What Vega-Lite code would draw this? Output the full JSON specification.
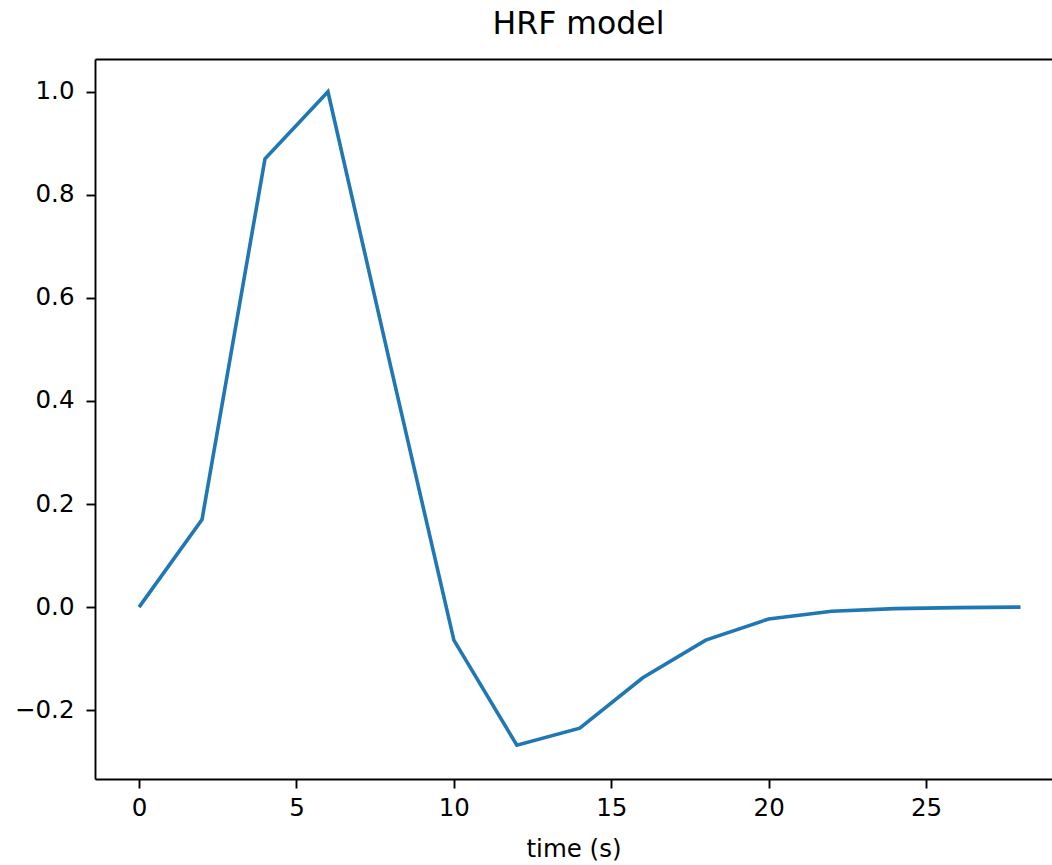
{
  "$schema": "https://vega.github.io/schema/vega-lite/v6.json",
  "autosize": {"type": "none"},
  "padding": {"left": 95, "top": 59, "right": 0, "bottom": 86},
  "width": 957,
  "height": 720,
  "background": "white",
  "config": {
    "view": {"stroke": null},
    "font": "DejaVu Sans",
    "axis": {
      "grid": false,
      "domainColor": "black",
      "domainWidth": 1.9,
      "tickColor": "black",
      "tickWidth": 1.9,
      "tickSize": 9,
      "labelColor": "black",
      "labelFontSize": 24.5,
      "labelFont": "DejaVu Sans",
      "titleFont": "DejaVu Sans",
      "titleFontSize": 24.5,
      "titleFontWeight": "normal",
      "titleColor": "black"
    },
    "title": {"font": "DejaVu Sans", "fontSize": 31.5, "fontWeight": "normal", "color": "black", "offset": 19}
  },
  "title": {"text": "HRF model", "dx": 5},
  "data": {
    "values": [
      {"t": 0, "hrf": 0.0},
      {"t": 2, "hrf": 0.17},
      {"t": 4, "hrf": 0.87},
      {"t": 6, "hrf": 1.0},
      {"t": 8, "hrf": 0.465},
      {"t": 10, "hrf": -0.064},
      {"t": 12, "hrf": -0.268},
      {"t": 14, "hrf": -0.235},
      {"t": 16, "hrf": -0.137},
      {"t": 18, "hrf": -0.064},
      {"t": 20, "hrf": -0.023},
      {"t": 22, "hrf": -0.008},
      {"t": 24, "hrf": -0.003},
      {"t": 26, "hrf": -0.001},
      {"t": 28, "hrf": 0.0}
    ]
  },
  "layer": [
    {
      "mark": {"type": "line", "color": "#1f77b4", "strokeWidth": 3.6, "clip": true},
      "encoding": {
        "x": {
          "field": "t", "type": "quantitative",
          "scale": {"domain": [-1.4, 29.0], "nice": false, "zero": false},
          "axis": {"orient": "bottom", "values": [0, 5, 10, 15, 20, 25], "format": "d", "title": "time (s)", "labelPadding": 8, "titlePadding": 18, "labelFlush": false}
        },
        "y": {
          "field": "hrf", "type": "quantitative",
          "scale": {"domain": [-0.3335, 1.0635], "nice": false, "zero": false},
          "axis": {"orient": "left", "values": [-0.2, 0, 0.2, 0.4, 0.6, 0.8, 1.0], "format": ".1f", "title": null, "labelPadding": 12, "labelFlush": false}
        }
      }
    },
    {
      "mark": {"type": "line", "strokeOpacity": 0},
      "encoding": {
        "x": {
          "field": "t", "type": "quantitative",
          "axis": {"orient": "top", "labels": false, "ticks": false, "title": null, "domain": true}
        },
        "y": {"field": "hrf", "type": "quantitative", "axis": null}
      }
    }
  ],
  "resolve": {"axis": {"x": "independent", "y": "independent"}}
}
